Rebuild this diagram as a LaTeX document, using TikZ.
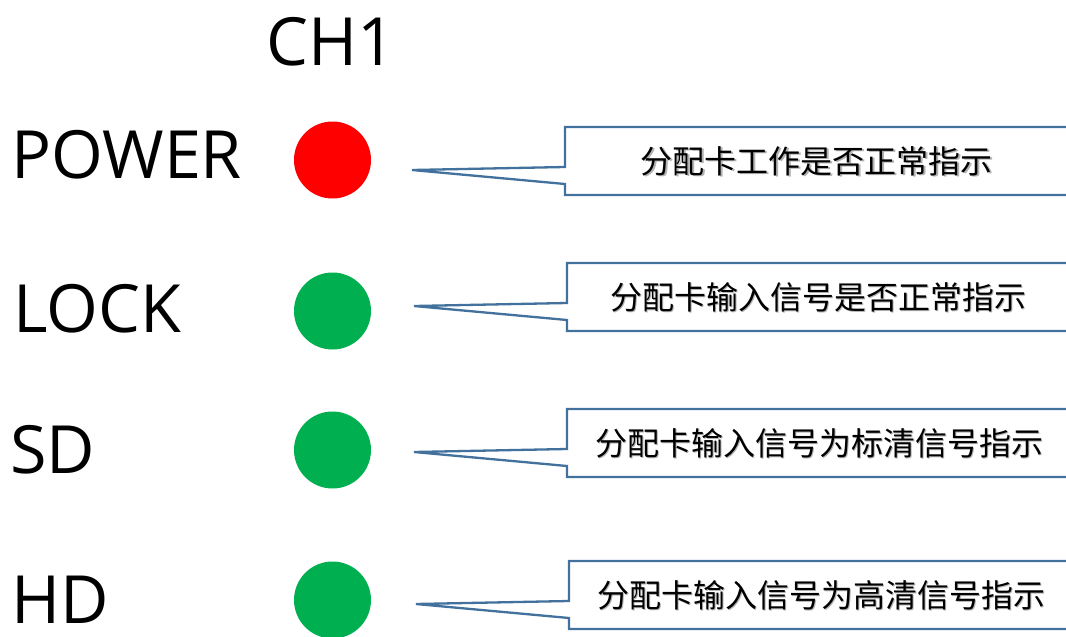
\documentclass[tikz,border=0pt]{standalone}
\usepackage{fontspec}
\setmainfont{Open Sans}
\newfontfamily\cjk{Noto Sans CJK SC}
\definecolor{calloutblue}{HTML}{41719C}
\definecolor{ledred}{HTML}{FF0000}
\definecolor{ledgreen}{HTML}{00B050}
\begin{document}
\begin{tikzpicture}[x=1pt,y=-1pt,
  lbl/.style={anchor=base west,inner sep=0pt,font=\fontsize{66.5}{70}\selectfont},
  led/.style={circle,minimum size=77pt,inner sep=0pt},
  note/.style={inner sep=0pt,font=\cjk\fontsize{32}{38}\selectfont},
  noteshadow/.style={note,text=black!30},
  callout/.style={draw=calloutblue,line width=2.3pt,fill=white,line join=miter}]
\useasboundingbox (0,0) rectangle (1066,637);
\clip (0,0) rectangle (1066,637);
\fill[white] (0,0) rectangle (1066,637);

\node[anchor=base,inner sep=0pt,font=\fontsize{66.5}{70}\selectfont] (ch) at (331,65) {CH1};

\node[lbl] (lpower) at (11,178) {POWER};
\node[lbl] (llock) at (13,332) {LOCK};
\node[lbl] (lsd) at (10,473) {SD};
\node[lbl] (lhd) at (11,623) {HD};

\node[led,fill=ledred] (p) at (332.5,160) {};
\node[led,fill=ledgreen] (l) at (332.5,311) {};
\node[led,fill=ledgreen] (s) at (332.5,450) {};
\node[led,fill=ledgreen] (h) at (332.5,600) {};

\coordinate (t1) at (412,170);
\draw[callout] (t1) -- (565,167) -- (565,127) -- (1080,127) -- (1080,195) -- (565,195) -- (565,184) -- cycle;
\node[noteshadow] at (818,162.5) {分配卡工作是否正常指示};
\node[note] (n1) at (816.5,161) {分配卡工作是否正常指示};

\coordinate (t2) at (414,306);
\draw[callout] (t2) -- (567,303) -- (567,263) -- (1080,263) -- (1080,331) -- (567,331) -- (567,320) -- cycle;
\node[noteshadow] at (819.5,298.5) {分配卡输入信号是否正常指示};
\node[note] (n2) at (818,297) {分配卡输入信号是否正常指示};

\coordinate (t3) at (414,452);
\draw[callout] (t3) -- (567,449) -- (567,409) -- (1080,409) -- (1080,477) -- (567,477) -- (567,466) -- cycle;
\node[noteshadow] at (820.5,444.5) {分配卡输入信号为标清信号指示};
\node[note] (n3) at (819,443) {分配卡输入信号为标清信号指示};

\coordinate (t4) at (416,604);
\draw[callout] (t4) -- (569,601) -- (569,561) -- (1080,561) -- (1080,629) -- (569,629) -- (569,618) -- cycle;
\node[noteshadow] at (822.5,596.5) {分配卡输入信号为高清信号指示};
\node[note] (n4) at (821,595) {分配卡输入信号为高清信号指示};
\end{tikzpicture}
\end{document}
